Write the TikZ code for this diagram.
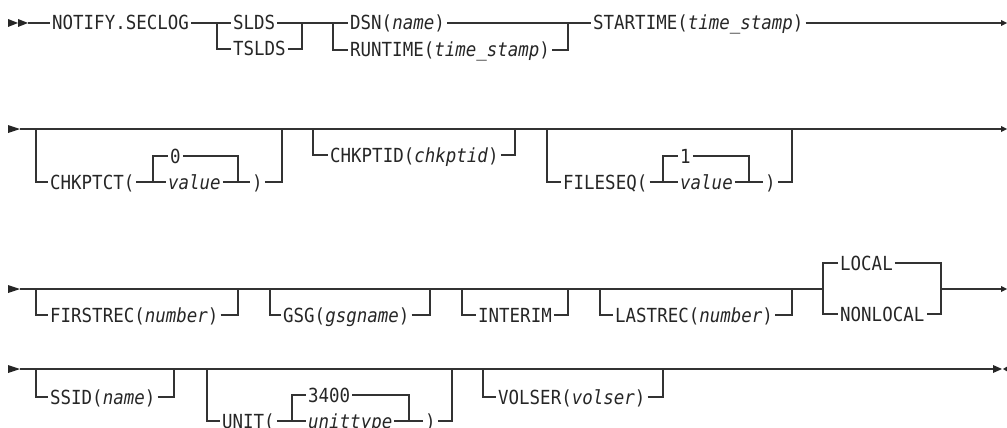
\documentclass[tikz,border=0pt]{standalone}
\usepackage{fontspec}
\newfontfamily\rr{DejaVu Sans Mono}[FakeStretch=0.9, ItalicFont={DejaVu Sans Mono Oblique}]
\begin{document}
\begin{tikzpicture}[x=1pt,y=-1pt,
  rail/.style={line width=1.3pt, draw=black!80},
  tip/.style={fill=black!85},
  tok/.style={anchor=west, inner xsep=2pt, inner ysep=0pt, text height=14pt, text depth=0pt, font=\rr\fontsize{19.4}{20}\selectfont, text=black!85}]
\useasboundingbox (0,0) rectangle (1007,428);

% ---------- Row 1 ----------
\coordinate (st1) at (28,23);
\fill[tip] (8,19) -- (18,23) -- (8,27) -- cycle;
\fill[tip] (18,19) -- (28,23) -- (18,27) -- cycle;
\node[tok] (notify) at (50,23) {NOTIFY.SECLOG};
\coordinate (b1l) at (217,23);
\coordinate (b1r) at (302,23);
\node[tok] (slds) at (231,23) {SLDS};
\node[tok] (tslds) at (231,49) {TSLDS};
\coordinate (b2l) at (333,23);
\coordinate (b2r) at (568,23);
\node[tok] (dsn) at (348,23) {DSN(\textit{name})};
\node[tok] (runtime) at (348,50) {RUNTIME(\textit{time\_stamp})};
\node[tok] (starttime) at (591,23) {STARTIME(\textit{time\_stamp})};
\coordinate (e1) at (1001,23);
\draw[rail] (st1) -- (notify.west);
\draw[rail] (notify.east) -- (slds.west);
\draw[rail] (b1l) |- (tslds.west);
\draw[rail] (tslds.east) -| (b1r);
\draw[rail] (slds.east) -- (dsn.west);
\draw[rail] (b2l) |- (runtime.west);
\draw[rail] (runtime.east) -| (b2r);
\draw[rail] (dsn.east) -- (starttime.west);
\draw[rail] (starttime.east) -- (e1);
\fill[tip] (1001,20) -- (1007,23) -- (1001,26) -- cycle;

% ---------- Row 2 ----------
\coordinate (st2) at (20,129);
\coordinate (e2) at (1001,129);
\fill[tip] (8,125) -- (20,129) -- (8,133) -- cycle;
\draw[rail] (st2) -- (e2);
\fill[tip] (1001,126) -- (1007,129) -- (1001,132) -- cycle;
% CHKPTCT
\coordinate (c1l) at (36,129);
\coordinate (c1r) at (282,129);
\node[tok] (chkptct) at (48,182) {CHKPTCT(};
\coordinate (i1l) at (153,182);
\coordinate (i1r) at (238,182);
\node[tok] (zero) at (168,156) {0};
\node[tok] (val1) at (166,182) {\textit{value}};
\node[tok] (rp1) at (250,182) {)};
\draw[rail] (c1l) |- (chkptct.west);
\draw[rail] (chkptct.east) -- (val1.west);
\draw[rail] (i1l) |- (zero.west);
\draw[rail] (zero.east) -| (i1r);
\draw[rail] (val1.east) -- (rp1.west);
\draw[rail] (rp1.east) -| (c1r);
% CHKPTID
\coordinate (c2l) at (313,129);
\coordinate (c2r) at (515,129);
\node[tok] (chkptid) at (328,155) {CHKPTID(\textit{chkptid})};
\draw[rail] (c2l) |- (chkptid.west);
\draw[rail] (chkptid.east) -| (c2r);
% FILESEQ
\coordinate (c3l) at (547,129);
\coordinate (c3r) at (792,129);
\node[tok] (fileseq) at (561,182) {FILESEQ(};
\coordinate (i2l) at (663,182);
\coordinate (i2r) at (749,182);
\node[tok] (one) at (678,156) {1};
\node[tok] (val2) at (678,182) {\textit{value}};
\node[tok] (rp2) at (763,182) {)};
\draw[rail] (c3l) |- (fileseq.west);
\draw[rail] (fileseq.east) -- (val2.west);
\draw[rail] (i2l) |- (one.west);
\draw[rail] (one.east) -| (i2r);
\draw[rail] (val2.east) -- (rp2.west);
\draw[rail] (rp2.east) -| (c3r);

% ---------- Row 3 ----------
\coordinate (st3) at (20,289);
\fill[tip] (8,285) -- (20,289) -- (8,293) -- cycle;
\coordinate (d1l) at (36,289);  \coordinate (d1r) at (238,289);
\coordinate (d2l) at (270,289); \coordinate (d2r) at (430,289);
\coordinate (d3l) at (462,289); \coordinate (d3r) at (568,289);
\coordinate (d4l) at (600,289); \coordinate (d4r) at (792,289);
\coordinate (d5l) at (823,289); \coordinate (d5r) at (941,289);
\coordinate (e3) at (1001,289);
\node[tok] (firstrec) at (48,315) {FIRSTREC(\textit{number})};
\node[tok] (gsg) at (281,315) {GSG(\textit{gsgname})};
\node[tok] (interim) at (476,315) {INTERIM};
\node[tok] (lastrec) at (613,315) {LASTREC(\textit{number})};
\node[tok] (local) at (838,263) {LOCAL};
\node[tok] (nonlocal) at (838,314) {NONLOCAL};
\coordinate (lt) at (823,263); \coordinate (lb) at (823,314);
\coordinate (rt) at (941,263); \coordinate (rb) at (941,314);
\draw[rail] (st3) -- (d5l);
\draw[rail] (d1l) |- (firstrec.west);
\draw[rail] (firstrec.east) -| (d1r);
\draw[rail] (d2l) |- (gsg.west);
\draw[rail] (gsg.east) -| (d2r);
\draw[rail] (d3l) |- (interim.west);
\draw[rail] (interim.east) -| (d3r);
\draw[rail] (d4l) |- (lastrec.west);
\draw[rail] (lastrec.east) -| (d4r);
\draw[rail] (local.west) -- (lt) -- (lb) -- (nonlocal.west);
\draw[rail] (local.east) -- (rt) -- (rb) -- (nonlocal.east);
\draw[rail] (d5r) -- (e3);
\fill[tip] (1001,286) -- (1007,289) -- (1001,292) -- cycle;

% ---------- Row 4 ----------
\coordinate (st4) at (20,369);
\coordinate (e4) at (993,369);
\fill[tip] (8,365) -- (20,369) -- (8,373) -- cycle;
\draw[rail] (st4) -- (e4);
\fill[tip] (993,365) -- (1002,369) -- (993,373) -- cycle;
\fill[tip] (1008,366) -- (1003,369) -- (1008,372) -- cycle;
% SSID
\coordinate (f1l) at (36,369); \coordinate (f1r) at (174,369);
\node[tok] (ssid) at (48,397) {SSID(\textit{name})};
\draw[rail] (f1l) |- (ssid.west);
\draw[rail] (ssid.east) -| (f1r);
% UNIT
\coordinate (f2l) at (207,369); \coordinate (f2r) at (452,369);
\node[tok] (unit) at (220,421) {UNIT(};
\coordinate (i3l) at (292,421);
\coordinate (i3r) at (409,421);
\node[tok] (n3400) at (306,395) {3400};
\node[tok] (utype) at (306,421) {\textit{unittype}};
\node[tok] (rp3) at (423,421) {)};
\draw[rail] (f2l) |- (unit.west);
\draw[rail] (unit.east) -- (utype.west);
\draw[rail] (i3l) |- (n3400.west);
\draw[rail] (n3400.east) -| (i3r);
\draw[rail] (utype.east) -- (rp3.west);
\draw[rail] (rp3.east) -| (f2r);
% VOLSER
\coordinate (f3l) at (483,369); \coordinate (f3r) at (663,369);
\node[tok] (volser) at (496,397) {VOLSER(\textit{volser})};
\draw[rail] (f3l) |- (volser.west);
\draw[rail] (volser.east) -| (f3r);
\end{tikzpicture}
\end{document}
